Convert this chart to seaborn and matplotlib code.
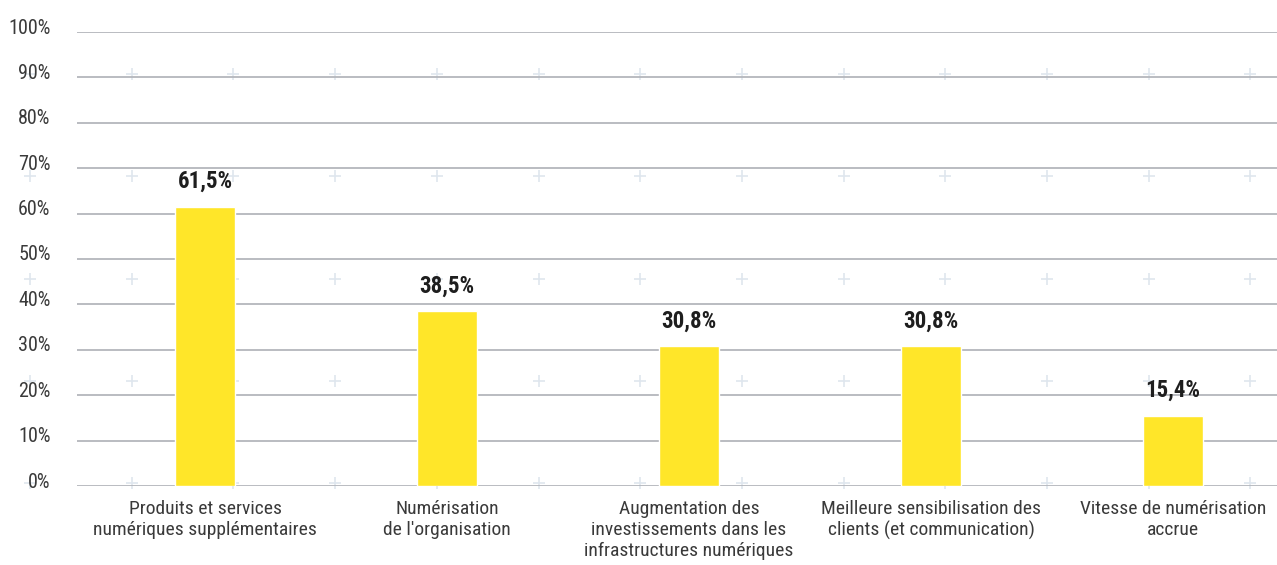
import numpy as np
import pandas as pd
import matplotlib
matplotlib.use("Agg")
import matplotlib.pyplot as plt
import matplotlib.transforms as mtransforms
from matplotlib import font_manager
import seaborn as sns

categories = [
    "Produits et services\nnumériques supplémentaires",
    "Numérisation\nde l'organisation",
    "Augmentation des\ninvestissements dans les\ninfrastructures numériques",
    "Meilleure sensibilisation des\nclients (et communication)",
    "Vitesse de numérisation\naccrue",
]
values = [61.5, 38.5, 30.8, 30.8, 15.4]
value_labels = ["61,5%", "38,5%", "30,8%", "30,8%", "15,4%"]
yticks = [0, 10, 20, 30, 40, 50, 60, 70, 80, 90, 100]

# condensed sans, whichever is there
installed = {f.name for f in font_manager.fontManager.ttflist}
font = "DejaVu Sans"
for cand in ["Roboto Condensed", "Archivo Narrow", "PT Sans Narrow", "IBM Plex Sans Condensed"]:
    if cand in installed:
        font = cand
        break

sns.set_style("white")
plt.rcParams["font.family"] = [font, "DejaVu Sans"]
text_col = "#3a3a3a"

fig = plt.figure(figsize=(12.77, 5.65), dpi=100)

# faint "+" background pattern (decoration)
bg = fig.add_axes([0, 0, 1, 1], zorder=0)
bg.set_xlim(0, 1277)
bg.set_ylim(565, 0)
bg.axis("off")
gx, gy = np.meshgrid(np.arange(30, 1277, 101.7), np.arange(74, 490, 102.3))
bg.scatter(gx.ravel(), gy.ravel(), marker="+", s=70, color="#dfe6ee", linewidths=1.2)

ax = fig.add_axes([77 / 1277, 1 - 486 / 565, 1 - 77 / 1277, (486 - 32) / 565], zorder=1)
ax.patch.set_alpha(0)

df = pd.DataFrame({"cat": categories, "val": values})
sns.barplot(data=df, x="cat", y="val", color="#ffe629", saturation=1, width=0.25, ax=ax, zorder=3)

ax.set_ylim(0, 100)
ax.set_xlim(-0.53, 4.43)
ax.set_yticks(yticks)
ax.set_yticklabels([f"{t}%" for t in yticks])
ax.yaxis.grid(True, color="#b4b6bc", linewidth=1.3)
ax.set_axisbelow(True)
for s in ax.spines.values():
    s.set_visible(False)
ax.tick_params(axis="y", length=0, pad=19, labelsize=14.5, labelcolor=text_col)
ax.tick_params(axis="x", length=0, pad=10, labelsize=14, labelcolor=text_col)
ax.set_xlabel("")
ax.set_ylabel("")

shift = mtransforms.ScaledTranslation(0, 6 / 100, fig.dpi_scale_trans)
for lab in ax.get_yticklabels():
    lab.set_transform(lab.get_transform() + shift)

ax.bar_label(ax.containers[0], labels=value_labels, padding=10,
             fontsize=16.5, fontweight="bold", color="#1e1e1e")

fig.savefig("out.png", dpi=100)
